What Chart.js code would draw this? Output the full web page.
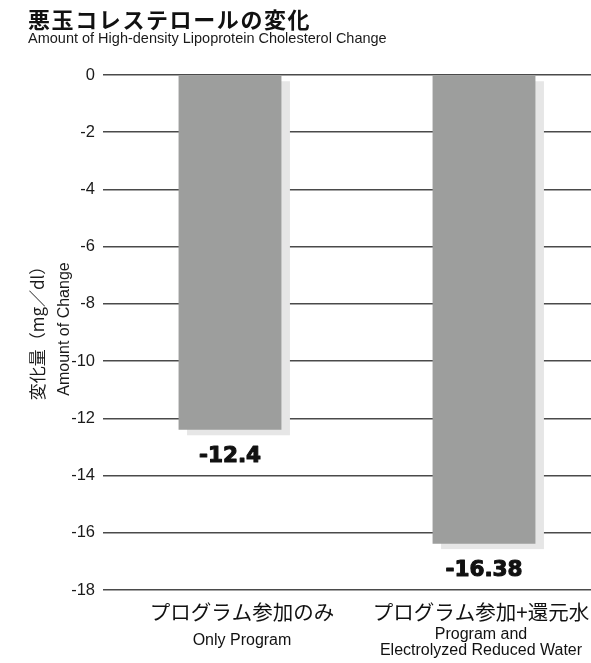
<!DOCTYPE html>
<html>
<head>
<meta charset="utf-8">
<script src="https://cdn.jsdelivr.net/npm/chart.js@4"></script>
<style>
  html, body { margin: 0; padding: 0; background: #fff; overflow: hidden; width: 591px; height: 663px; }
  #wrap { position: relative; width: 591px; height: 663px; overflow: hidden; }
  #c { position: absolute; left: 0; top: 0; }
  .title { position: absolute; left: 28px; top: 4px; font: bold 22px "Noto Sans CJK JP"; letter-spacing: 1.6px; line-height: 28px; color: #111; white-space: nowrap; }
  .subtitle { position: absolute; left: 28px; top: 30px; font: 14.5px "Liberation Sans"; line-height: 17px; color: #1a1a1a; white-space: nowrap; }
</style>
</head>
<body>
<div id="wrap">
  <canvas id="c" width="611" height="663"></canvas>
  <div class="title">悪玉コレステロールの変化</div>
  <div class="subtitle">Amount of High-density Lipoprotein Cholesterol Change</div>
</div>
<script>
// Groups compared
const categoriesJa = ['プログラム参加のみ', 'プログラム参加+還元水'];
const categoriesEn = [['Only Program'], ['Program and', 'Electrolyzed Reduced Water']];

// Change in cholesterol (mg/dl)
const changeValues = [-12.4, -16.38];
const valueLabels = ['-12.4', '-16.38'];

// Y axis
const yTicks = [0, -2, -4, -6, -8, -10, -12, -14, -16, -18];
const yTitle = ['変化量（mg／dl）', 'Amount of Change'];

// Soft drop shadow behind every bar
const barShadow = {
  id: 'barShadow',
  beforeDatasetsDraw(chart, args, opts) {
    const ctx = chart.ctx;
    chart.getDatasetMeta(0).data.forEach(bar => {
      const p = bar.getProps(['x', 'y', 'base', 'width'], true);
      const top = Math.min(p.y, p.base);
      const h = Math.abs(p.base - p.y);
      ctx.save();
      ctx.fillStyle = opts.color;
      ctx.fillRect(p.x - p.width / 2 + opts.dx, top + opts.dy, p.width, h);
      ctx.restore();
    });
  }
};

// Value printed below the end of each bar
const valueText = {
  id: 'valueText',
  afterDatasetsDraw(chart, args, opts) {
    const ctx = chart.ctx;
    chart.getDatasetMeta(0).data.forEach((bar, i) => {
      const p = bar.getProps(['x', 'y', 'base'], true);
      const end = Math.max(p.y, p.base);
      ctx.save();
      ctx.font = opts.font;
      ctx.fillStyle = opts.color;
      ctx.strokeStyle = opts.color;
      ctx.lineWidth = opts.weight;
      ctx.lineJoin = 'round';
      ctx.textAlign = 'center';
      ctx.textBaseline = 'alphabetic';
      ctx.translate(p.x, end + opts.offset);
      ctx.scale(opts.squeeze, 1);
      ctx.fillText(valueLabels[i], 0, 0);
      ctx.strokeText(valueLabels[i], 0, 0);
      ctx.restore();
    });
  }
};

// Two-language category labels under the axis
const categoryText = {
  id: 'categoryText',
  afterDraw(chart, args, opts) {
    const ctx = chart.ctx;
    const xs = chart.scales.x;
    categoriesJa.forEach((ja, i) => {
      const cx = xs.getPixelForValue(i) + opts.shift[i];
      ctx.save();
      ctx.fillStyle = opts.color;
      ctx.textAlign = 'center';
      ctx.font = opts.jaFont;
      ctx.textBaseline = 'middle';
      ctx.fillText(ja, cx, opts.jaY);
      ctx.font = opts.enFont;
      ctx.textBaseline = 'alphabetic';
      const lines = categoriesEn[i];
      const first = opts.enY - (lines.length - 1) * 6.5;
      lines.forEach((ln, k) => ctx.fillText(ln, cx, first + k * opts.enLine));
      ctx.restore();
    });
  }
};

// Rotated two-line y axis title
const yTitleText = {
  id: 'yTitleText',
  afterDraw(chart, args, opts) {
    const ctx = chart.ctx;
    const cy = opts.cy;
    ctx.save();
    ctx.fillStyle = opts.color;
    ctx.textAlign = 'center';
    ctx.translate(opts.jaX, cy);
    ctx.rotate(-Math.PI / 2);
    ctx.font = opts.jaFont;
    ctx.textBaseline = 'middle';
    ctx.fillText(yTitle[0], 0, 0);
    ctx.restore();
    ctx.save();
    ctx.fillStyle = opts.color;
    ctx.textAlign = 'center';
    ctx.translate(opts.enX, cy);
    ctx.rotate(-Math.PI / 2);
    ctx.font = opts.enFont;
    ctx.textBaseline = 'alphabetic';
    ctx.fillText(yTitle[1], 0, 0);
    ctx.restore();
  }
};

new Chart(document.getElementById('c'), {
  type: 'bar',
  data: {
    labels: categoriesJa,
    datasets: [{
      data: changeValues,
      backgroundColor: '#9d9e9d',
      borderWidth: 0,
      barPercentage: 0.405,
      categoryPercentage: 1
    }]
  },
  options: {
    responsive: false,
    animation: false,
    events: [],
    layout: { padding: { top: 75, bottom: 73, left: 0, right: 0 } },
    plugins: {
      legend: { display: false },
      tooltip: { enabled: false },
      barShadow: { color: '#e6e6e6', dx: 8.5, dy: 5.5 },
      valueText: { font: 'bold 22px "DejaVu Sans"', color: '#111', offset: 32, weight: 1.1, squeeze: 0.98 },
      categoryText: {
        color: '#111',
        jaFont: '20.5px "Noto Sans CJK JP"',
        enFont: '16px "Liberation Sans"',
        jaY: 612, enY: 645, enLine: 16.5,
        shift: [12, -3]
      },
      yTitleText: {
        color: '#1a1a1a',
        jaFont: '17px "Noto Sans CJK JP"',
        enFont: '16px "Liberation Sans"',
        jaX: 37.5, enX: 68.5, cy: 329
      }
    },
    scales: {
      x: { display: false },
      y: {
        min: -18,
        max: 0,
        afterBuildTicks: s => { s.ticks = yTicks.map(v => ({ value: v })); },
        afterFit: s => { s.width = 103; },
        ticks: {
          padding: 8,
          color: '#1a1a1a',
          font: { family: 'Liberation Sans', size: 16.5 }
        },
        grid: { color: '#4a4a4a', lineWidth: 1.5, drawTicks: false },
        border: { display: false }
      }
    }
  },
  plugins: [barShadow, valueText, categoryText, yTitleText]
});
</script>
</body>
</html>
